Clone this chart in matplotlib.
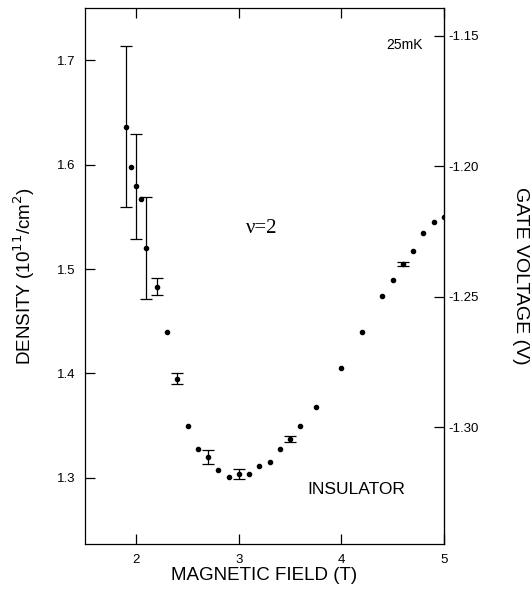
import numpy as np
import matplotlib.pyplot as plt

plt.rcParams['font.family'] = ['Liberation Sans', 'DejaVu Sans']

# campo magnetico (T) y densidad (10^11 cm^-2)
campo = [1.9, 1.95, 2.0, 2.05, 2.1, 2.2, 2.3, 2.4, 2.5, 2.6, 2.7, 2.8, 2.9, 3.0,
         3.1, 3.2, 3.3, 3.4, 3.5, 3.6, 3.75, 4.0, 4.2, 4.4, 4.5, 4.6, 4.7, 4.8,
         4.9, 5.0]
densidad = [1.636, 1.598, 1.579, 1.567, 1.520, 1.483, 1.440, 1.395, 1.350, 1.328,
            1.320, 1.308, 1.301, 1.304, 1.304, 1.311, 1.315, 1.328, 1.337, 1.350,
            1.368, 1.405, 1.440, 1.474, 1.489, 1.505, 1.517, 1.534, 1.545, 1.550]
error = [0.077, 0, 0.05, 0, 0.049, 0.008, 0, 0.005, 0, 0, 0.007, 0, 0, 0.005,
         0, 0, 0, 0, 0.003, 0, 0, 0, 0, 0, 0, 0.002, 0, 0, 0, 0]

ticks_x = [2, 3, 4, 5]
ticks_n = [1.3, 1.4, 1.5, 1.6, 1.7]
ticks_v = [-1.15, -1.20, -1.25, -1.30]

# relacion lineal densidad <-> voltaje de compuerta
v0, n0, pend = -1.3194, 1.3, 0.4004


def n_a_v(n):
    return v0 + (n - n0) * pend


def v_a_n(v):
    return n0 + (v - v0) / pend


campo = np.array(campo)
densidad = np.array(densidad)
error = np.array(error)
con_err = error > 0

fig = plt.figure(figsize=(5.31, 5.94), dpi=100)
ax = fig.add_axes([0.160, 0.0842, 0.676, 0.9023])

ax.plot(campo, densidad, 'o', color='black', markersize=3)
ax.errorbar(campo[con_err], densidad[con_err], yerr=error[con_err], fmt='none',
            ecolor='black', elinewidth=0.9, capsize=4.5, capthick=0.9)

ax.set_xlim(1.5, 5.0)
ax.set_ylim(1.2368, 1.7498)
ax.set_xticks(ticks_x)
ax.set_xticklabels([str(t) for t in ticks_x])
ax.set_yticks(ticks_n)
ax.set_yticklabels(['%.1f' % t for t in ticks_n])
ax.tick_params(direction='in', length=7, width=0.9, labelsize=9.5, top=True,
               right=False, pad=7)

ax2 = ax.secondary_yaxis('right', functions=(n_a_v, v_a_n))
ax2.set_yticks(ticks_v)
ax2.set_yticklabels(['%.2f' % t for t in ticks_v])
ax2.tick_params(direction='in', length=7, width=0.9, labelsize=9.5, pad=3)
ax2.set_ylabel('GATE VOLTAGE (V)', fontsize=14, rotation=-90, labelpad=36)

for s in ax.spines.values():
    s.set_linewidth(0.9)

ax.set_xlabel('MAGNETIC FIELD (T)', fontsize=13.5, labelpad=1)
ax.set_ylabel('DENSITY (10$^{11}$/cm$^{2}$)', fontsize=13.5, labelpad=14)

ax.text(0.891, 0.931, '25mK', transform=ax.transAxes, fontsize=10,
        ha='center', va='center')
ax.text(0.493, 0.589, 'ν=2', transform=ax.transAxes, fontsize=15,
        ha='center', va='center', family=['Liberation Serif', 'DejaVu Serif'])
ax.text(0.755, 0.101, 'INSULATOR', transform=ax.transAxes, fontsize=12.5,
        ha='center', va='center')

fig.savefig('out.png', dpi=100)
